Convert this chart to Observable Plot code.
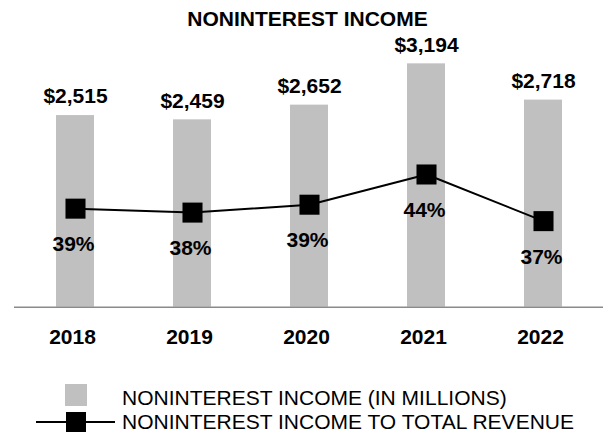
<!DOCTYPE html>
<html>
<head>
<meta charset="utf-8">
<script src="https://cdn.jsdelivr.net/npm/d3@7"></script>
<script src="https://cdn.jsdelivr.net/npm/@observablehq/plot@0.6"></script>
<style>
  body { margin: 0; background: #fff; font-family: "Liberation Sans", Arial, sans-serif; }
  #wrap { position: relative; width: 603px; height: 433px; overflow: hidden; background: #fff; }
  #title { position: absolute; left: 6px; top: 8px; width: 603px; text-align: center;
           font-size: 21px; line-height: 21px; font-weight: bold; color: #000; }
  .plot { position: absolute; left: 0; top: 29px; }
  .lg-text { position: absolute; left: 122px; font-size: 21px; line-height: 21px; color: #000; white-space: nowrap; }
  .sw { position: absolute; }
</style>
</head>
<body>
<div id="wrap">
  <div id="title">NONINTEREST INCOME</div>
  <div id="p1" class="plot"></div>
  <div id="p2" class="plot"></div>
  <div class="sw" style="left:65px;top:384px;width:22px;height:22px;background:#c0c0c0"></div>
  <div class="lg-text" style="top:387px">NONINTEREST INCOME (IN MILLIONS)</div>
  <div class="sw" style="left:36px;top:421px;width:79px;height:2px;background:#000"></div>
  <div class="sw" style="left:66px;top:412px;width:20px;height:20px;background:#000"></div>
  <div class="lg-text" style="top:411px">NONINTEREST INCOME TO TOTAL REVENUE</div>
</div>
<script>
// Data
const years = ["2018", "2019", "2020", "2021", "2022"];
const income = [2515, 2459, 2652, 3194, 2718];          // $ millions
const pctOfRevenue = [38.8, 38.2, 39.4, 44.0, 36.9];    // % (labels rounded)

const data = years.map((y, i) => ({year: y, income: income[i], pct: pctOfRevenue[i]}));

const W = 603, H = 331;
const common = {
  width: W, height: H,
  marginLeft: 14, marginRight: 0, marginTop: 3.4, marginBottom: 53.3,
  style: {fontFamily: "'Liberation Sans', Arial, sans-serif", background: "transparent", color: "#000", overflow: "visible"},
  x: {domain: years, paddingInner: 0.677, paddingOuter: 0.3385, axis: null, label: null}
};

const p1 = Plot.plot({
  ...common,
  y: {domain: [0, 3600], axis: null},
  marks: [
    Plot.barY(data, {x: "year", y: "income", fill: "#c0c0c0"}),
    Plot.ruleY([0], {stroke: "#8a8a8a", strokeWidth: 1.6}),
    Plot.text(data, {x: "year", y: "income", text: d => "$" + d3.format(",")(d.income),
      dy: -19, fontSize: 21, fontWeight: "bold", fill: "#000"}),
    Plot.axisX({label: null, tickSize: 0, tickPadding: 22, fontSize: 21, fontWeight: "bold", dx: -3, fill: "#000"})
  ]
});
document.getElementById("p1").appendChild(p1);

const p2 = Plot.plot({
  ...common,
  y: {domain: [23.8, 65.55], axis: null},
  marks: [
    Plot.line(data, {x: "year", y: "pct", stroke: "#000", strokeWidth: 2}),
    Plot.dot(data, {x: "year", y: "pct", symbol: "square", r: 11.3, fill: "#000", stroke: "none"}),
    Plot.text(data, {x: "year", y: "pct", text: d => Math.round(d.pct) + "%",
      dy: 36, dx: -2, fontSize: 21, fontWeight: "bold", fill: "#000"})
  ]
});
document.getElementById("p2").appendChild(p2);
</script>
</body>
</html>
